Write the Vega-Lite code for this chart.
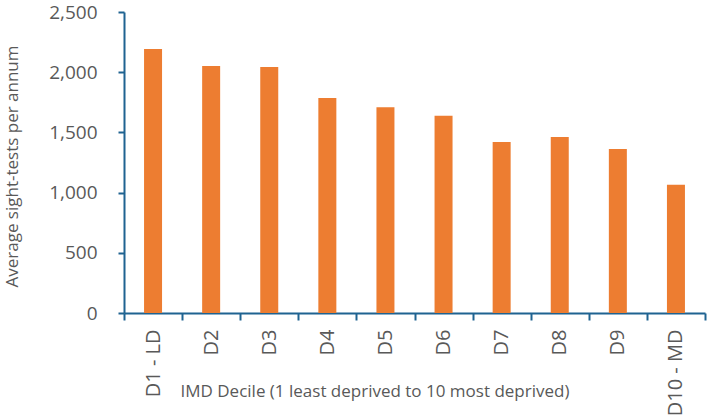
{
  "$schema": "https://vega.github.io/schema/vega-lite/v6.json",
  "width": 581,
  "height": 301,
  "autosize": "none",
  "padding": {"left": 124, "top": 12, "right": 4, "bottom": 106},
  "background": "white",
  "config": {"view": {"stroke": null}, "font": "Open Sans"},
  "data": {"values": [
    {"decile": "D1 - LD", "tests": 2193},
    {"decile": "D2", "tests": 2051},
    {"decile": "D3", "tests": 2043},
    {"decile": "D4", "tests": 1786},
    {"decile": "D5", "tests": 1708},
    {"decile": "D6", "tests": 1639},
    {"decile": "D7", "tests": 1420},
    {"decile": "D8", "tests": 1462},
    {"decile": "D9", "tests": 1362},
    {"decile": "D10 - MD", "tests": 1066}
  ]},
  "mark": {"type": "bar", "width": 18, "color": "#ED7D31"},
  "encoding": {
    "x": {
      "field": "decile", "type": "nominal", "sort": null,
      "scale": {"paddingInner": 0, "paddingOuter": 0},
      "axis": {
        "title": "IMD Decile (1 least deprived to 10 most deprived)",
        "titleFontSize": 17, "titleFontWeight": "normal", "titleColor": "#595959",
        "titleX": 56, "titleY": 78, "titleAlign": "left", "titleBaseline": "middle", "titleAnchor": null,
        "labelAngle": -90, "labelFontSize": 20, "labelColor": "#595959", "labelPadding": 9,
        "tickBand": "extent", "domainColor": "#1F6391", "domainWidth": 2,
        "tickColor": "#1F6391", "tickWidth": 2, "tickSize": 7
      }
    },
    "y": {
      "field": "tests", "type": "quantitative",
      "scale": {"domain": [0, 2500], "nice": false},
      "axis": {
        "title": "Average sight-tests  per annum",
        "titleFontSize": 17, "titleFontWeight": "normal", "titleColor": "#595959",
        "titleX": -112, "titleY": 154, "titleBaseline": "middle",
        "values": [0, 500, 1000, 1500, 2000, 2500], "format": ",.0f",
        "labelFontSize": 19, "labelColor": "#595959", "labelPadding": 21,
        "grid": false, "domainColor": "#1F6391", "domainWidth": 2,
        "tickColor": "#1F6391", "tickWidth": 2, "tickSize": 6
      }
    }
  }
}
